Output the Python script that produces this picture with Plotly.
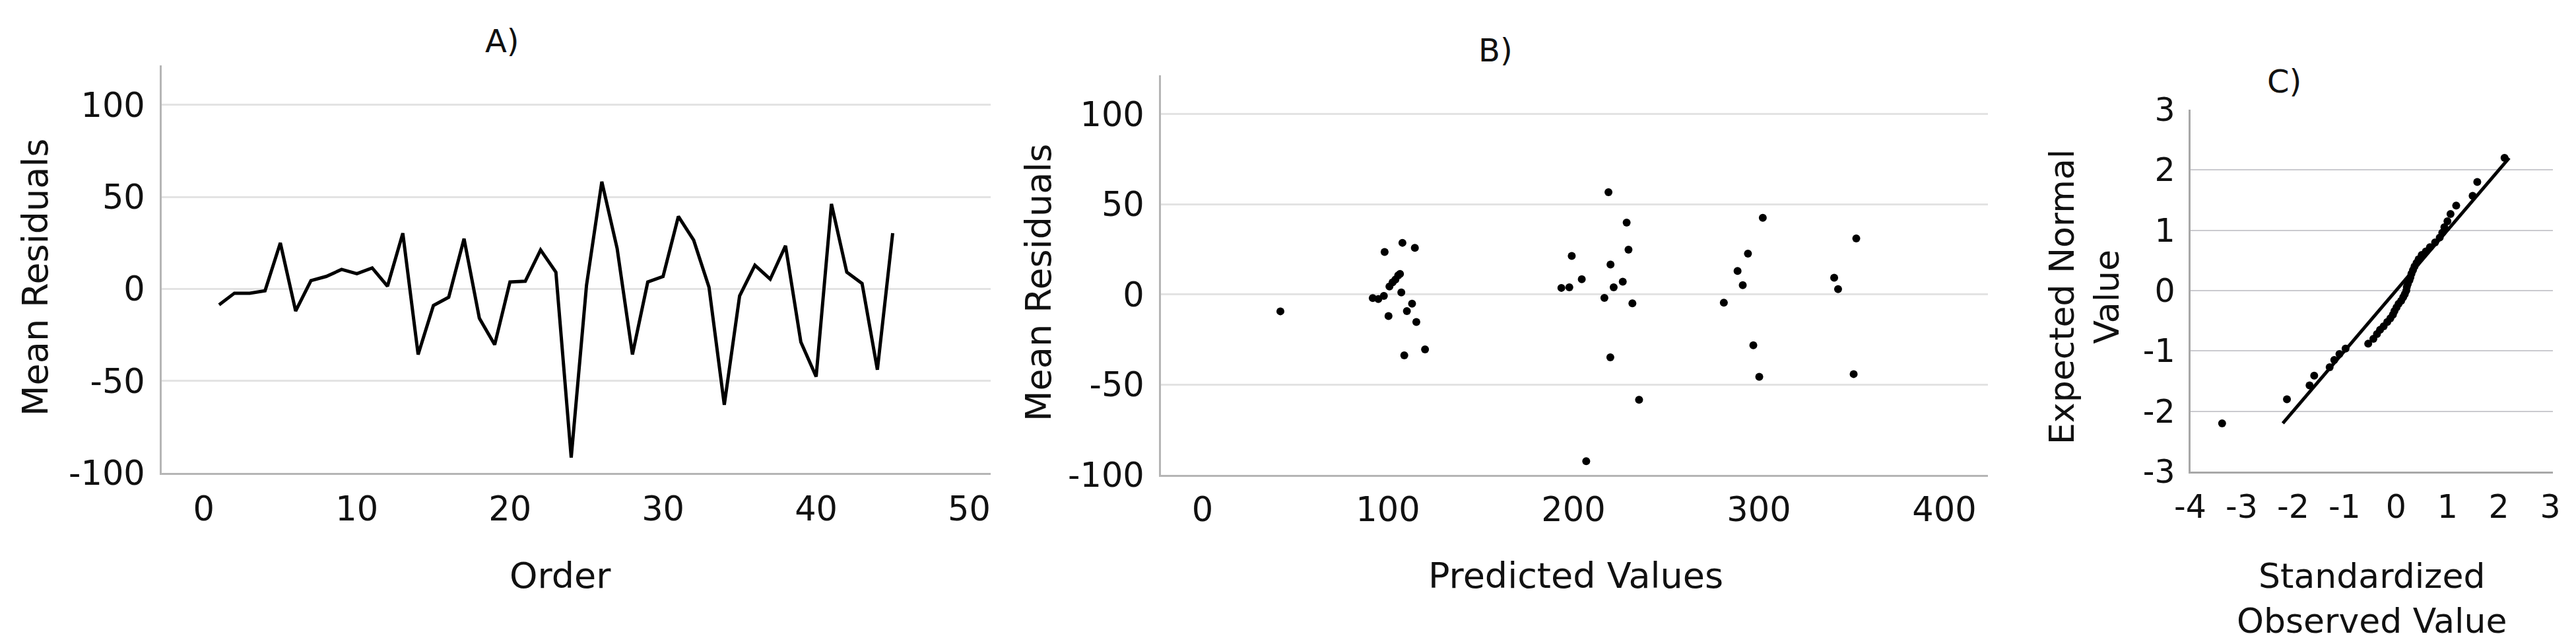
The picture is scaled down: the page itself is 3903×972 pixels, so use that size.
import plotly.graph_objects as go

# ---------------- data ----------------
order = list(range(1, 46))
mean_residuals = [-8.6, -2.3, -2.3, -1.0, 25.0, -12.0, 4.5, 6.8, 10.6, 8.3,
                  11.4, 1.5, 30.3, -35.6, -9.0, -4.5, 27.3, -15.9, -30.3, 3.8,
                  4.2, 21.2, 9.1, -91.7, 2.0, 58.3, 22.0, -35.6, 3.8, 6.8,
                  39.4, 26.5, 1.0, -63.0, -3.8, 12.9, 5.3, 23.5, -28.8, -47.7,
                  46.2, 9.1, 3.0, -43.9, 30.3]

predicted_values = [42.0, 98.2, 107.8, 114.5, 106.5, 105.5, 104.0, 102.5, 100.8, 107.2,
                    91.8, 94.8, 97.8, 100.3, 113.0, 110.2, 115.3, 120.0, 108.8, 193.5,
                    197.8, 199.1, 204.5, 206.9, 216.7, 218.9, 219.9, 220.0, 221.7, 226.6,
                    228.7, 229.7, 231.8, 235.4, 281.1, 288.5, 291.3, 294.1, 297.0, 300.2,
                    302.1, 340.6, 342.7, 351.1, 352.5]
predicted_residuals = [-9.3, 23.6, 28.7, 25.9, 11.4, 10.6, 8.3, 6.8, 4.5, 1.2,
                       -1.9, -2.5, -0.7, -11.9, -5.0, -9.2, -15.2, -30.4, -33.7, 3.7,
                       4.0, 21.4, 8.5, -92.4, -1.8, 56.8, -34.8, 16.7, 4.0, 7.1,
                       39.9, 24.9, -4.9, -58.3, -4.5, 13.1, 5.2, 22.7, -28.1, -45.6,
                       42.6, 9.3, 3.0, -44.1, 31.1]

std_observed = [-3.38, -2.12, -1.68, -1.59, -1.29, -1.20, -1.10, -0.98, -0.54, -0.44,
                -0.37, -0.31, -0.24, -0.17, -0.11, -0.06, -0.03, 0.01, 0.05, 0.10,
                0.14, 0.17, 0.20, 0.21, 0.23, 0.26, 0.28, 0.30, 0.33, 0.36,
                0.40, 0.44, 0.50, 0.58, 0.66, 0.76, 0.85, 0.90, 0.94, 1.00,
                1.06, 1.17, 1.49, 1.58, 2.11]
expected_normal = [-2.20, -1.80, -1.57, -1.41, -1.27, -1.15, -1.05, -0.96, -0.88, -0.80,
                   -0.72, -0.65, -0.59, -0.52, -0.46, -0.40, -0.34, -0.28, -0.22, -0.17,
                   -0.11, -0.06, 0.00, 0.06, 0.11, 0.17, 0.22, 0.28, 0.34, 0.40,
                   0.46, 0.52, 0.59, 0.65, 0.72, 0.80, 0.88, 0.96, 1.05, 1.15,
                   1.27, 1.41, 1.57, 1.80, 2.20]
ref_line_x = [-2.2, 2.2]
ref_line_y = [-2.2, 2.2]

a_xticks = [0, 10, 20, 30, 40, 50]
ab_yticks = [-100, -50, 0, 50, 100]
b_xticks = [0, 100, 200, 300, 400]
c_xticks = [-4, -3, -2, -1, 0, 1, 2, 3]
c_yticks = [-3, -2, -1, 0, 1, 2, 3]

panel_titles = ["A)", "B)", "C)"]

# ---------------- layout helpers ----------------
W, H = 3903, 972
def px(x):
    return x / W
def py(y):
    return 1 - y / H

FONT = "DejaVu Sans"
BLACK = "#111111"

fig = go.Figure()

fig.add_trace(go.Scatter(x=order, y=mean_residuals, mode="lines",
                         line=dict(color="black", width=5),
                         xaxis="x", yaxis="y", showlegend=False))
fig.add_trace(go.Scatter(x=predicted_values, y=predicted_residuals, mode="markers",
                         marker=dict(color="black", size=12),
                         xaxis="x2", yaxis="y2", showlegend=False))
fig.add_trace(go.Scatter(x=ref_line_x, y=ref_line_y, mode="lines",
                         line=dict(color="black", width=5),
                         xaxis="x3", yaxis="y3", showlegend=False))
fig.add_trace(go.Scatter(x=std_observed, y=expected_normal, mode="markers",
                         marker=dict(color="black", size=12),
                         xaxis="x3", yaxis="y3", showlegend=False))

def xax(domain, rng, ticks, anchor, size, color, standoff):
    return dict(domain=domain, range=rng, tickvals=ticks, ticktext=[str(t) for t in ticks],
                anchor=anchor, showgrid=False, zeroline=False, showline=True,
                linecolor=color, linewidth=3, ticks="", ticklabelstandoff=standoff,
                automargin=False,
                tickfont=dict(family=FONT, size=size, color=BLACK))

def yax(domain, rng, ticks, anchor, size, color, gridcolor, gridwidth, standoff):
    return dict(domain=domain, range=rng, tickvals=ticks, ticktext=[str(t) for t in ticks],
                anchor=anchor, showgrid=True, gridcolor=gridcolor, gridwidth=gridwidth,
                zeroline=False, showline=True, linecolor=color, linewidth=3, ticks="",
                ticklabelstandoff=standoff, automargin=False,
                tickfont=dict(family=FONT, size=size, color=BLACK))

AB_AXIS = "#b5b5b5"
AB_GRID = "#e3e3e3"
C_AXIS = "#a8a8a8"
C_GRID = "#cacacf"

fig.update_layout(
    width=W, height=H,
    margin=dict(l=0, r=0, t=0, b=0, pad=0, autoexpand=False),
    paper_bgcolor="white", plot_bgcolor="white",
    xaxis=xax([px(245), px(1501)], [-2.75, 51.4], a_xticks, "y", 51, AB_AXIS, 8),
    yaxis=yax([py(716), py(98.5)], [-100, 121.7], ab_yticks, "x", 51, AB_AXIS, AB_GRID, 3, 12),
    xaxis2=xax([px(1759), px(3012)], [-22.4, 423.5], b_xticks, "y2", 51, AB_AXIS, 6),
    yaxis2=yax([py(719), py(114)], [-100, 121.6], ab_yticks, "x2", 51, AB_AXIS, AB_GRID, 3, 12),
    xaxis3=xax([px(3318.5), px(3868)], [-4, 3.05], c_xticks, "y3", 49, C_AXIS, 8),
    yaxis3=yax([py(714), py(166)], [-3, 3], c_yticks, "x3", 49, C_AXIS, C_GRID, 2, 10),
)

annotations = []
def ann(text, x, y, size, angle=0):
    annotations.append(dict(text=text, x=px(x), y=py(y), xref="paper", yref="paper",
                            xanchor="center", yanchor="middle", showarrow=False,
                            textangle=angle, font=dict(family=FONT, size=size, color=BLACK)))

ann(panel_titles[0], 761, 62, 48)
ann(panel_titles[1], 2266, 76, 48)
ann(panel_titles[2], 3461, 123, 48)
ann("Mean Residuals", 54, 420, 54, -90)
ann("Order", 849, 871, 54)
ann("Mean Residuals", 1573, 428, 54, -90)
ann("Predicted Values", 2387, 871, 54)
ann("Expected Normal<br>Value", 3158, 450, 52, -90)
ann("Standardized<br>Observed Value", 3594, 906, 52)
fig.update_layout(annotations=annotations)

fig.write_html("out.html",
               config={"displayModeBar": False},
               post_script="document.body.style.margin='0px';document.body.style.overflow='hidden';")
